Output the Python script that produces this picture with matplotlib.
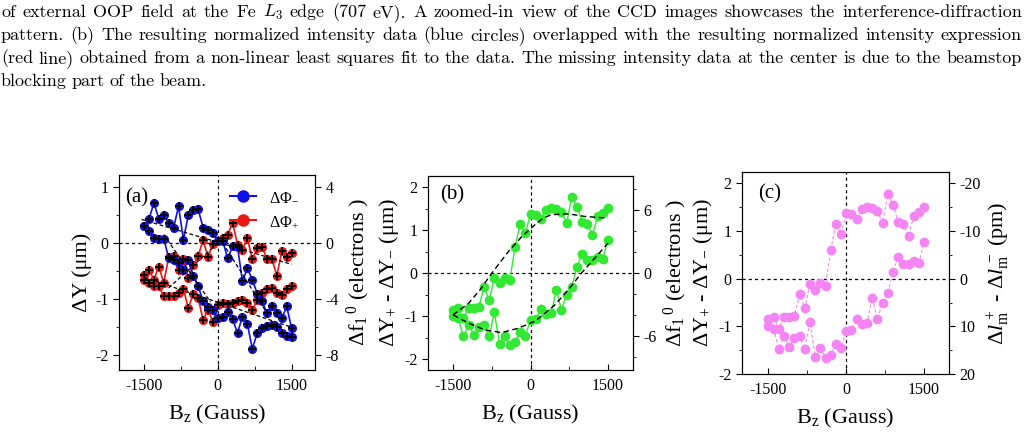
import matplotlib
matplotlib.use("Agg")
import matplotlib.pyplot as plt
from matplotlib.ticker import MultipleLocator
from matplotlib.lines import Line2D

plt.rcParams["font.family"] = "Liberation Serif"
plt.rcParams["mathtext.fontset"] = "custom"
plt.rcParams["mathtext.rm"] = "Liberation Serif"
plt.rcParams["mathtext.it"] = "Liberation Serif:italic"
plt.rcParams["axes.unicode_minus"] = False

# caption lines (text above the panels)
caption = [
    "of external OOP field at the Fe $L_3$ edge (707 eV). A zoomed-in view of the CCD images showcases the interference-diffraction",
    "pattern. (b) The resulting normalized intensity data (blue circles) overlapped with the resulting normalized intensity expression",
    "(red line) obtained from a non-linear least squares fit to the data.  The missing intensity data at the center is due to the beamstop",
    "blocking part of the beam.",
]

# field sweep (Gauss)
field = [-1500, -1400, -1300, -1200, -1100, -1000, -900, -800, -700, -600, -500,
         -400, -300, -200, -100, 0, 100, 200, 300, 400, 500,
         600, 700, 800, 900, 1000, 1100, 1200, 1300, 1400, 1500]

# panel (a): dY (um) for the two helicities, two branches each
blue_up = [0.31, 0.43, 0.71, 0.43, 0.50, 0.36, 0.27, 0.65, 0.06, 0.50, 0.58,
           0.60, 0.27, 0.24, 0.17, 0.04, 0.03, -0.27, -0.06, -0.07, -0.68,
           -0.45, -0.65, -0.90, -1.04, -1.25, -1.13, -1.25, -1.34, -1.13, -1.52]
blue_dn = [0.30, 0.21, 0.09, 0.07, 0.08, -0.27, -0.30, -0.36, -0.48, -0.30, -0.58,
           -0.77, -1.04, -1.14, -1.19, -1.34, -1.31, -1.22, -1.36, -1.60, -1.31,
           -1.44, -1.88, -1.61, -1.52, -1.48, -1.46, -1.50, -1.61, -1.65, -1.67]
red_up = [-0.57, -0.48, -0.65, -0.42, -0.71, -0.25, -0.24, -0.48, -0.29, -0.63, -0.39,
          -0.23, 0.05, -0.25, -0.01, 0.03, 0.09, 0.15, 0.36, -0.03, -0.12,
          0.09, -0.29, -0.09, -0.07, -0.29, -0.29, -0.58, -0.15, -0.25, -0.17]
red_dn = [-0.65, -0.71, -0.77, -0.77, -0.95, -0.94, -0.95, -0.89, -0.82, -1.16, -0.90,
          -0.98, -1.37, -1.19, -1.40, -1.10, -1.06, -1.09, -1.06, -1.04, -1.02,
          -1.06, -1.19, -1.02, -0.89, -0.82, -0.80, -0.89, -0.92, -0.82, -0.77]

# dashed linear fits in panel (a)
fits_a = [
    ([-1550, 1500], [0.42, -0.38]),
    ([-1500, 1500], [-0.61, -1.50]),
    ([-1100, -150], [0.15, -1.05]),
    ([100, 1000], [0.0, -1.25]),
    ([-1000, 0], [-0.80, 0.0]),
]

# panel (b)/(c): dY+ - dY- (um)
diff_up = [-0.85, -0.80, -1.05, -0.81, -0.81, -0.78, -0.33, -0.62, -0.12, -0.23, -0.10,
           -0.16, 0.60, 1.15, 0.93, 1.38, 1.36, 1.26, 1.46, 1.51, 1.49,
           1.43, 1.16, 1.78, 1.55, 1.20, 1.15, 0.89, 1.32, 1.40, 1.51]
diff_dn = [-1.00, -1.05, -1.47, -1.20, -1.43, -1.24, -1.20, -1.47, -0.91, -1.64, -1.45,
           -1.67, -1.60, -1.36, -1.45, -1.09, -1.07, -0.84, -0.95, -0.93, -0.40,
           -0.85, -0.50, -0.31, 0.15, 0.45, 0.31, 0.31, 0.37, 0.33, 0.78]

# fitted loop in panel (b)
fit_up_x = [-1500, -1200, -980, -750, -430, -170, 80, 245, 405, 730, 1050, 1500]
fit_up_y = [-0.97, -0.70, -0.39, 0.0, 0.50, 0.85, 1.12, 1.28, 1.36, 1.38, 1.32, 1.28]
fit_dn_x = [-1500, -1200, -880, -560, -240, 80, 210, 470, 730, 985, 1245, 1500]
fit_dn_y = [-0.97, -1.16, -1.32, -1.38, -1.28, -1.12, -1.0, -0.74, -0.39, 0.0, 0.35, 0.70]

W, H = 1028, 442
fig = plt.figure(figsize=(W / 100, H / 100), dpi=100)
fig.patch.set_facecolor("white")


def px_axes(x0, y0, x1, y1):
    return fig.add_axes([x0 / W, 1 - y1 / H, (x1 - x0) / W, (y1 - y0) / H])


# justified caption
renderer = fig.canvas.get_renderer()
baselines = [17, 40, 63, 86]
for i, line in enumerate(caption):
    words = line.split()
    texts = [fig.text(0, 1 - baselines[i] / H, w, fontsize=13, family="cmr10",
                      math_fontfamily="cm", va="baseline") for w in words]
    widths = [t.get_window_extent(renderer).width for t in texts]
    if i < len(caption) - 1:
        gap = (1022 - 1 - sum(widths)) / (len(words) - 1)
    else:
        gap = 5
    x = 1
    for t, w in zip(texts, widths):
        t.set_x(x / W)
        x += w + gap

dash0 = dict(color="k", lw=0.9, ls=(0, (2.5, 2.5)), zorder=1)
label_fs = 16
tick_fs = 11.5


def style(ax):
    ax.tick_params(axis="x", direction="in", length=4, labelsize=tick_fs, pad=6)
    ax.tick_params(axis="x", which="minor", direction="in", length=3)
    ax.tick_params(axis="y", direction="out", length=4, labelsize=tick_fs)
    ax.tick_params(axis="y", which="minor", direction="out", length=2.5)
    ax.xaxis.set_major_locator(MultipleLocator(1500))
    ax.xaxis.set_minor_locator(MultipleLocator(750))
    ax.yaxis.set_major_locator(MultipleLocator(1))
    ax.yaxis.set_minor_locator(MultipleLocator(0.5))
    ax.axhline(0, **dash0)
    ax.axvline(0, **dash0)
    ax.set_xlabel("B$_\\mathregular{z}$ (Gauss)", fontsize=label_fs, labelpad=6)


# ---- panel (a)
ax = px_axes(119, 175, 315, 370)
blue, red = "#1010e8", "#ee1515"
for ys in (red_up, red_dn):
    ax.plot(field, ys, "-o", color=red, ms=5.5, lw=1.2, zorder=3)
    ax.plot(field, ys, "+", color="k", ms=6, mew=1.4, zorder=4)
for ys in (blue_up, blue_dn):
    ax.plot(field, ys, "-o", color=blue, ms=5.5, lw=1.2, zorder=3)
    ax.plot(field, ys, "+", color="k", ms=6, mew=1.4, zorder=4)
for fx, fy in fits_a:
    ax.plot(fx, fy, color="k", lw=0.9, ls=(0, (3, 2)), zorder=5)
ax.set_xlim(-2010, 1975)
ax.set_ylim(-2.26, 1.21)
style(ax)
ax.set_ylabel("ΔY (μm)", fontsize=label_fs, labelpad=2)
ax.text(0.03, 0.93, "(a)", transform=ax.transAxes, fontsize=15, va="top")
handles = [Line2D([], [], color=blue, marker="o", ms=8, lw=1.5),
           Line2D([], [], color=red, marker="o", ms=8, lw=1.5)]
ax.legend(handles, ["ΔΦ$_{-}$", "ΔΦ$_{+}$"], loc="upper right", frameon=False,
          fontsize=11.5, handlelength=1.6, labelspacing=0.5,
          bbox_to_anchor=(0.99, 1.0))
axr = ax.twinx()
axr.set_ylim(-2.26 * 4, 1.21 * 4)
axr.yaxis.set_major_locator(MultipleLocator(4))
axr.yaxis.set_minor_locator(MultipleLocator(2))
axr.tick_params(axis="y", direction="out", length=4, labelsize=tick_fs)
axr.tick_params(axis="y", which="minor", direction="out", length=2.5)
axr.set_ylabel("Δf$_1$$^{\\,0}$ (electrons )", fontsize=label_fs, labelpad=4)

# ---- panel (b)
green = "#33e833"
ax = px_axes(428, 176, 633, 370)
for ys in (diff_up, diff_dn):
    ax.plot(field, ys, "-o", color=green, ms=6, lw=1.0, zorder=3)
ax.plot(fit_up_x, fit_up_y, color="k", lw=1.0, ls=(0, (4, 2.5)), zorder=4)
ax.plot(fit_dn_x, fit_dn_y, color="k", lw=1.0, ls=(0, (4, 2.5)), zorder=4)
ax.set_xlim(-1985, 1985)
ax.set_ylim(-2.25, 2.26)
style(ax)
ax.set_ylabel("ΔY$_{+}$ - ΔY$_{-}$ (μm)", fontsize=label_fs, labelpad=2)
ax.text(0.06, 0.95, "(b)", transform=ax.transAxes, fontsize=15, va="top")
axr = ax.twinx()
axr.set_ylim(-2.25 * 4.1, 2.26 * 4.1)
axr.yaxis.set_major_locator(MultipleLocator(6))
axr.yaxis.set_minor_locator(MultipleLocator(2))
axr.tick_params(axis="y", direction="out", length=4, labelsize=tick_fs)
axr.tick_params(axis="y", which="minor", direction="out", length=2.5)
axr.set_ylabel("Δf$_1$$^{\\,0}$ (electrons )", fontsize=label_fs, labelpad=4)

# ---- panel (c)
pink = "#f585f5"
ax = px_axes(742, 172, 949, 374)
for ys in (diff_up, diff_dn):
    ax.plot(field, ys, "o", color=pink, ms=6, zorder=3)
    ax.plot(field, ys, color=pink, lw=0.8, ls=(0, (3, 2)), zorder=2)
ax.set_xlim(-2010, 1980)
ax.set_ylim(-2.0, 2.24)
style(ax)
ax.set_ylabel("ΔY$_{+}$ - ΔY$_{-}$ (μm)", fontsize=label_fs, labelpad=2)
ax.text(0.08, 0.94, "(c)", transform=ax.transAxes, fontsize=15, va="top")
axr = ax.twinx()
axr.set_ylim(20, -22.4)
axr.yaxis.set_major_locator(MultipleLocator(10))
axr.yaxis.set_minor_locator(MultipleLocator(5))
axr.tick_params(axis="y", direction="out", length=4, labelsize=tick_fs)
axr.tick_params(axis="y", which="minor", direction="out", length=2.5)
axr.set_ylabel("Δ$\\mathit{l}_\\mathregular{m}^{\\,+}$ - Δ$\\mathit{l}_\\mathregular{m}^{\\,-}$ (pm)",
               fontsize=label_fs, labelpad=4)

fig.savefig("out.png", dpi=100)
